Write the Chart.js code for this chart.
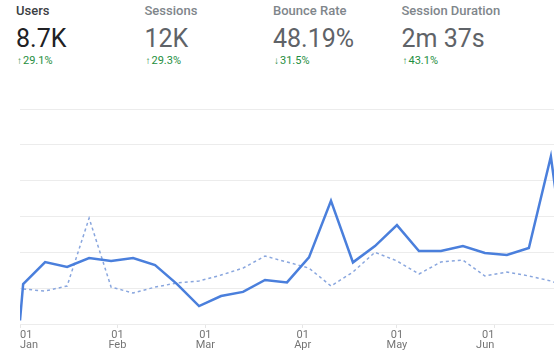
<!DOCTYPE html>
<html>
<head>
<meta charset="utf-8">
<script src="https://cdn.jsdelivr.net/npm/chart.js@4/dist/chart.umd.min.js"></script>
<style>
  html, body { margin: 0; padding: 0; background: #fff; }
  body { width: 554px; height: 351px; position: relative; overflow: hidden; font-family: Roboto, 'Open Sans', sans-serif; }
  #chart { position: absolute; left: 0; top: 0; }
  .metric { position: absolute; top: 0; width: 128px; }
  .metric .name { position: absolute; top: 4px; left: 0; font-size: 13px; line-height: 13px; font-weight: 500; color: #80868b; white-space: nowrap; }
  .metric .value { position: absolute; top: 27px; left: 0; font-size: 25px; line-height: 24px; color: #5f6368; white-space: nowrap; }
  .metric .delta { position: absolute; top: 56px; left: 1px; font-size: 11px; line-height: 10px; color: #1e8e3e; white-space: nowrap; }
  .metric .delta b { font-weight: 700; font-size: 10px; margin-right: 1px; }
  .metric.active .name { color: #3c4043; }
  .metric.active .value { color: #202124; }
</style>
</head>
<body>
<div id="metrics"></div>
<canvas id="chart" width="554" height="351"></canvas>
<script>
// header metrics
const metricNames = ['Users', 'Sessions', 'Bounce Rate', 'Session Duration'];
const metricValues = ['8.7K', '12K', '48.19%', '2m 37s'];
const metricArrows = ['\u2191', '\u2191', '\u2193', '\u2191'];
const metricDeltas = ['29.1%', '29.3%', '31.5%', '43.1%'];

// weekly points (first one is the partial week of Jan 1)
const weeks = [
  '2022-01-01', '2022-01-02', '2022-01-09', '2022-01-16', '2022-01-23', '2022-01-30',
  '2022-02-06', '2022-02-13', '2022-02-20', '2022-02-27',
  '2022-03-06', '2022-03-13', '2022-03-20', '2022-03-27',
  '2022-04-03', '2022-04-10', '2022-04-17', '2022-04-24',
  '2022-05-01', '2022-05-08', '2022-05-15', '2022-05-22', '2022-05-29',
  '2022-06-05', '2022-06-12', '2022-06-19', '2022-06-26'
];
const users = [
  20, 223, 346, 318, 368, 352,
  368, 329, 223, 100,
  156, 179, 246, 232,
  372, 688, 344, 435,
  552, 407, 407, 435, 396,
  385, 424, 935, 30
];
const usersPrev = [
  null, 195, 184, 212, 591, 206,
  173, 206, 229, 240,
  273, 312, 379, 346,
  312, 212, 290, 400,
  352, 279, 346, 357, 268,
  290, 268, 240, 195
];
const monthTicks = ['2022-01-01', '2022-02-01', '2022-03-01', '2022-04-01', '2022-05-01', '2022-06-01'];
const monthNames = ['Jan', 'Feb', 'Mar', 'Apr', 'May', 'Jun'];
const rangeEnd = '2022-06-20';

const start = Date.UTC(2022, 0, 1);
const dayOf = (s) => (Date.parse(s + 'T00:00:00Z') - start) / 86400000;

const metricsEl = document.getElementById('metrics');
metricNames.forEach((name, i) => {
    const div = document.createElement('div');
    div.className = 'metric' + (i === 0 ? ' active' : '');
    div.style.left = (16 + i * 128.5) + 'px';
    div.innerHTML = '<div class="name">' + name + '</div>' +
        '<div class="value">' + metricValues[i] + '</div>' +
        '<div class="delta"><b>' + metricArrows[i] + '</b>' + metricDeltas[i] + '</div>';
    metricsEl.appendChild(div);
});

const ctx = document.getElementById('chart').getContext('2d');
new Chart(ctx, {
    type: 'line',
    data: {
        datasets: [{
            label: 'Users',
            data: weeks.map((w, i) => ({ x: dayOf(w), y: users[i] })),
            borderColor: '#4a7fdc',
            borderWidth: 2.5,
            pointRadius: 0,
            tension: 0
        }, {
            label: 'Users (previous period)',
            data: weeks.map((w, i) => ({ x: dayOf(w), y: usersPrev[i] })),
            borderColor: '#89a6de',
            borderWidth: 1.5,
            borderDash: [3, 3],
            pointRadius: 0,
            tension: 0
        }]
    },
    options: {
        responsive: false,
        animation: false,
        devicePixelRatio: 1,
        layout: { padding: { left: 20, top: 109, right: 0, bottom: 0 } },
        plugins: { legend: { display: false }, tooltip: { enabled: false } },
        scales: {
            x: {
                type: 'linear',
                min: 0,
                max: dayOf(rangeEnd),
                afterBuildTicks: (scale) => {
                    scale.ticks = monthTicks.map(m => ({ value: dayOf(m) }));
                },
                afterFit: (scale) => { scale.height = 27; },
                grid: { drawOnChartArea: false, drawTicks: true, tickLength: 4, color: '#e6e6e6' },
                border: { display: false },
                ticks: {
                    autoSkip: false,
                    maxRotation: 0,
                    align: 'inner',
                    padding: 2,
                    color: '#757575',
                    font: { family: 'Roboto', size: 11, lineHeight: 0.95 },
                    callback: (value, index) => ['01', monthNames[index]]
                }
            },
            y: {
                min: 0,
                max: 1200,
                ticks: { display: false, stepSize: 200 },
                grid: { color: '#ececec', drawTicks: false },
                border: { display: false }
            }
        }
    }
});
</script>
</body>
</html>
